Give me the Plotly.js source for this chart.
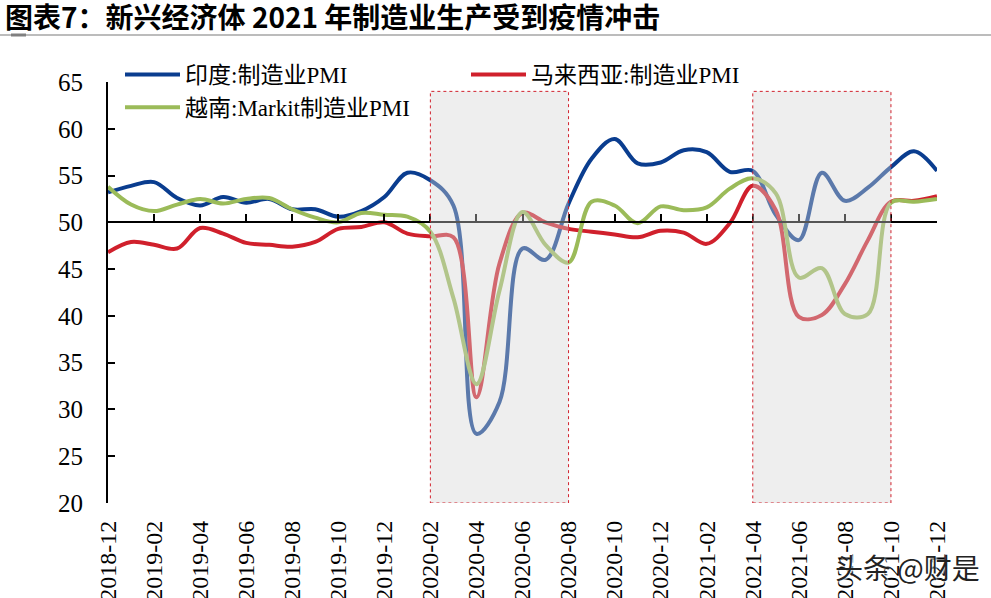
<!DOCTYPE html>
<html>
<head>
<meta charset="utf-8">
<script src="https://cdn.plot.ly/plotly-3.0.1.min.js"></script>
<style>
  body { margin: 0; background: #fff; }
  #plot { width: 991px; height: 598px; }
</style>
</head>
<body>
<div id="plot"></div>
<script>
// months on the category axis
var months = [
  "2018-12",
  "2019-01", "2019-02", "2019-03", "2019-04", "2019-05", "2019-06",
  "2019-07", "2019-08", "2019-09", "2019-10", "2019-11", "2019-12",
  "2020-01", "2020-02", "2020-03", "2020-04", "2020-05", "2020-06",
  "2020-07", "2020-08", "2020-09", "2020-10", "2020-11", "2020-12",
  "2021-01", "2021-02", "2021-03", "2021-04", "2021-05", "2021-06",
  "2021-07", "2021-08", "2021-09", "2021-10", "2021-11", "2021-12"
];

var india = [53.2, 53.9, 54.3, 52.6, 51.8, 52.7, 52.1, 52.5, 51.4, 51.4, 50.6, 51.2, 52.7,
  55.3, 54.5, 51.8, 27.4, 30.8, 47.2, 46.0, 52.0, 56.8, 58.9, 56.3, 56.4,
  57.7, 57.5, 55.4, 55.5, 50.8, 48.1, 55.3, 52.3, 53.7, 55.9, 57.6, 55.5];

var malaysia = [46.8, 47.9, 47.6, 47.2, 49.4, 48.8, 47.8, 47.6, 47.4, 47.9, 49.3, 49.5, 50.0,
  48.8, 48.5, 48.4, 31.3, 45.6, 51.0, 50.0, 49.3, 49.0, 48.7, 48.4, 49.1,
  48.9, 47.7, 49.9, 53.9, 51.3, 39.9, 40.1, 43.4, 48.1, 52.2, 52.3, 52.8];

var vietnam = [53.8, 51.9, 51.2, 51.9, 52.5, 52.0, 52.5, 52.6, 51.4, 50.5, 50.0, 51.0, 50.8,
  50.6, 49.0, 41.9, 32.7, 42.7, 51.1, 47.6, 45.7, 52.2, 51.8, 49.9, 51.7,
  51.3, 51.6, 53.6, 54.7, 53.1, 44.1, 45.1, 40.2, 40.2, 52.1, 52.2, 52.5];

var seriesNames = ["印度:制造业PMI", "马来西亚:制造业PMI", "越南:Markit制造业PMI"];

// shaded periods (covid waves)
var shadeStart = ["2020-02", "2021-04"];
var shadeEnd = ["2020-08", "2021-10"];
var shadeTop = 64;
var axisCross = 50;

var serif = "Liberation Serif, Times New Roman, Noto Sans CJK SC, serif";
var W = 991, H = 598;
var mL = 108, mR = 54, mT = 82, mB = 95;
var pw = W - mL - mR, ph = H - mT - mB;
// pixel -> paper helpers for decorations outside the plot
function px(x) { return (x - mL) / pw; }
function py(y) { return (H - mB - y) / ph; }

var colors = ["#0a3d8f", "#d0202c", "#9bbb59"];
var data = [india, malaysia, vietnam].map(function (vals, i) {
  return {
    x: months,
    y: vals,
    name: seriesNames[i],
    type: "scatter",
    mode: "lines",
    line: { color: colors[i], width: 4, shape: "spline", smoothing: 1 }
  };
});
// empty trace so the axis line through 50 gets drawn
data.push({
  x: [0], y: [null], xaxis: "x2", yaxis: "y",
  type: "scatter", mode: "lines", showlegend: false, hoverinfo: "skip"
});

var shapes = shadeStart.map(function (s, i) {
  return {
    type: "rect", xref: "x", yref: "y", layer: "above",
    x0: months.indexOf(s), x1: months.indexOf(shadeEnd[i]),
    y0: 20, y1: shadeTop,
    fillcolor: "rgba(212,212,212,0.4)",
    line: { color: "#d0202c", width: 1, dash: "dot" }
  };
});
// rule under the title
shapes.push({
  type: "line", xref: "paper", yref: "paper",
  x0: px(0), x1: px(W), y0: py(35), y1: py(35),
  line: { color: "#a6a6a6", width: 1.5 }
});
shapes.push({
  type: "line", xref: "paper", yref: "paper",
  x0: px(11), x1: px(26), y0: py(35), y1: py(35),
  line: { color: "#808080", width: 3 }
});

var layout = {
  width: W,
  height: H,
  margin: { l: mL, r: mR, t: mT, b: mB },
  paper_bgcolor: "#fff",
  plot_bgcolor: "#fff",
  title: {
    text: "<b>图表7：新兴经济体 2021 年制造业生产受到疫情冲击</b>",
    xref: "container", yref: "container",
    x: 5 / W, xanchor: "left",
    y: 1 - 18 / H, yanchor: "middle",
    font: { family: "Noto Sans CJK SC, Liberation Sans, sans-serif", size: 28, color: "#000" }
  },
  xaxis: {
    type: "category",
    range: [0, months.length - 1],
    tick0: 0, dtick: 2,
    tickangle: -90,
    ticks: "",
    showline: false,
    showgrid: false,
    zeroline: false,
    ticklabelstandoff: 12,
    tickfont: { family: serif, size: 24, color: "#000" }
  },
  xaxis2: {
    type: "linear",
    overlaying: "x",
    anchor: "free",
    position: (axisCross - 20) / (65 - 20),
    range: [0, months.length - 1],
    tick0: 0, dtick: 2,
    ticks: "inside", ticklen: 7, tickwidth: 2, tickcolor: "#000",
    showticklabels: false,
    showline: true, linecolor: "#000", linewidth: 2,
    showgrid: false, zeroline: false
  },
  yaxis: {
    range: [20, 65],
    dtick: 5,
    ticks: "inside", ticklen: 7, tickwidth: 2, tickcolor: "#000",
    showline: true, linecolor: "#000", linewidth: 2,
    showgrid: false, zeroline: false,
    ticklabelstandoff: 18,
    tickfont: { family: serif, size: 25, color: "#000" }
  },
  showlegend: true,
  legend: {
    orientation: "h",
    x: px(120), xanchor: "left",
    y: py(53), yanchor: "top",
    bgcolor: "rgba(0,0,0,0)",
    itemwidth: 55,
    entrywidth: 276,
    tracegroupgap: 0,
    font: { family: serif, size: 23, color: "#000" }
  },
  shapes: shapes,
  annotations: [{
    xref: "paper", yref: "paper",
    x: px(907), y: py(567),
    xanchor: "center", yanchor: "middle",
    text: "头条 @财是",
    showarrow: false,
    font: { family: "Noto Sans CJK SC, sans-serif", size: 28, color: "#222", shadow: "1px 1px 2px #fff" }
  }]
};

Plotly.newPlot("plot", data, layout, { displayModeBar: false });
</script>
</body>
</html>
